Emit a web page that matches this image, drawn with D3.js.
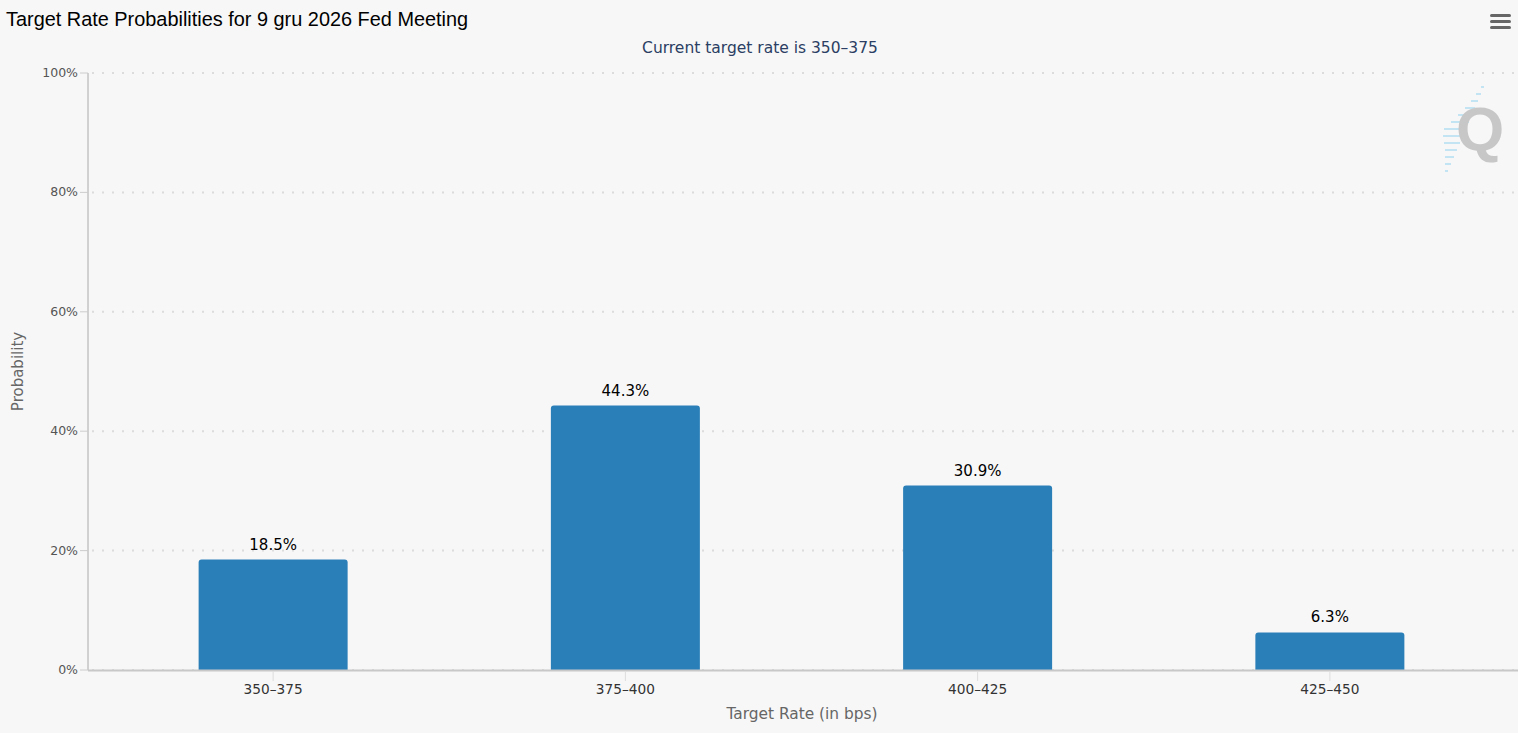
<!DOCTYPE html>
<html>
<head>
<meta charset="utf-8">
<script src="https://cdn.jsdelivr.net/npm/d3@7"></script>
<style>
  body { margin: 0; background: #f7f7f7; }
  svg { display: block; font-family: "DejaVu Sans", sans-serif; }
</style>
</head>
<body>
<div id="chart"></div>
<script>
const rates = ['350–375', '375–400', '400–425', '425–450'];
const probabilities = [18.5, 44.3, 30.9, 6.3];
const yTicks = [0, 20, 40, 60, 80, 100];

const width = 1518;
const height = 733;
const margin = {top: 73, right: 12, bottom: 63, left: 97};
const axisLeft = 88;
const plotBottom = height - margin.bottom;

const svg = d3.select('#chart')
  .append('svg')
  .attr('width', width)
  .attr('height', height);

svg.append('rect')
  .attr('width', width)
  .attr('height', height)
  .attr('fill', '#f7f7f7');

const x = d3.scaleBand()
  .domain(rates)
  .range([margin.left, width - margin.right])
  .paddingInner(0.577)
  .paddingOuter(0.2885);

const y = d3.scaleLinear()
  .domain([0, 100])
  .range([plotBottom, margin.top]);

// title + subtitle
svg.append('text')
  .text('Target Rate Probabilities for 9 gru 2026 Fed Meeting')
  .attr('x', 6)
  .attr('y', 26)
  .attr('font-family', '"Liberation Sans", Arial, sans-serif')
  .attr('font-size', '19.9px')
  .attr('fill', '#000');

svg.append('text')
  .text('Current target rate is 350–375')
  .attr('x', 760)
  .attr('y', 53)
  .attr('text-anchor', 'middle')
  .attr('font-size', '15.5px')
  .attr('fill', '#2b3e63');

// hamburger menu
svg.append('g')
  .selectAll('rect')
  .data([0, 1, 2])
  .enter()
  .append('rect')
  .attr('x', 1490)
  .attr('y', d => 14 + d * 6)
  .attr('width', 21)
  .attr('height', 3)
  .attr('rx', 1.5)
  .attr('fill', '#666');

// watermark
const mark = svg.append('g').attr('opacity', 0.5);
[[1484, 87, 3], [1481, 94, 5], [1478, 101, 7], [1475, 108, 10], [1472, 115, 14], [1469, 122, 18],
 [1466, 129, 22], [1463, 136, 20], [1460, 143, 16], [1457, 150, 12], [1454, 157, 9], [1451, 164, 6], [1448, 171, 3]]
  .forEach(([x0, y0, len]) => {
    mark.append('line')
      .attr('x1', x0 - len).attr('x2', x0)
      .attr('y1', y0).attr('y2', y0)
      .attr('stroke', '#8fd3f0')
      .attr('stroke-width', 2);
  });
mark.append('text')
  .text('Q')
  .attr('x', 1480)
  .attr('y', 150)
  .attr('text-anchor', 'middle')
  .attr('font-family', '"Liberation Sans", Arial, sans-serif')
  .attr('font-weight', 'bold')
  .attr('font-size', '62px')
  .attr('fill', '#999');

// gridlines
svg.append('g')
  .selectAll('line')
  .data(yTicks)
  .enter()
  .append('line')
  .attr('x1', axisLeft + 4)
  .attr('x2', width)
  .attr('y1', d => y(d))
  .attr('y2', d => y(d))
  .attr('stroke', '#dcdcdc')
  .attr('stroke-width', 2)
  .attr('stroke-dasharray', '2,8');

// y axis
const yAxis = svg.append('g');
yAxis.append('line')
  .attr('x1', axisLeft).attr('x2', axisLeft)
  .attr('y1', margin.top).attr('y2', plotBottom)
  .attr('stroke', '#aaa');
yAxis.selectAll('.tick')
  .data(yTicks)
  .enter()
  .append('line')
  .attr('x1', axisLeft - 8).attr('x2', axisLeft)
  .attr('y1', d => y(d)).attr('y2', d => y(d))
  .attr('stroke', '#ccc');
yAxis.selectAll('text')
  .data(yTicks)
  .enter()
  .append('text')
  .text(d => `${d}%`)
  .attr('x', axisLeft - 10)
  .attr('y', d => y(d) + 4)
  .attr('text-anchor', 'end')
  .attr('font-size', '12.5px')
  .attr('fill', '#555');

svg.append('text')
  .text('Probability')
  .attr('transform', `translate(23, ${(margin.top + plotBottom) / 2}) rotate(-90)`)
  .attr('text-anchor', 'middle')
  .attr('font-size', '15px')
  .attr('fill', '#666');

// bars
const bars = svg.append('g');
bars.selectAll('path')
  .data(probabilities)
  .enter()
  .append('path')
  .attr('d', (d, i) => {
    const x0 = x(rates[i]);
    const w = x.bandwidth();
    const y0 = y(d);
    const r = 3;
    return `M${x0},${plotBottom} V${y0 + r} Q${x0},${y0} ${x0 + r},${y0} H${x0 + w - r} Q${x0 + w},${y0} ${x0 + w},${y0 + r} V${plotBottom} Z`;
  })
  .attr('fill', '#2a7fb8');

bars.selectAll('text')
  .data(probabilities)
  .enter()
  .append('text')
  .text(d => `${d}%`)
  .attr('x', (d, i) => x(rates[i]) + x.bandwidth() / 2)
  .attr('y', d => y(d) - 10)
  .attr('text-anchor', 'middle')
  .attr('font-size', '15px')
  .attr('fill', '#000');

// x axis
const xAxis = svg.append('g');
xAxis.append('line')
  .attr('x1', axisLeft).attr('x2', width)
  .attr('y1', plotBottom + 0.5).attr('y2', plotBottom + 0.5)
  .attr('stroke', '#c8c8c8')
  .attr('stroke-width', 2);
xAxis.selectAll('.tick')
  .data(rates)
  .enter()
  .append('line')
  .attr('x1', d => x(d) + x.bandwidth() / 2)
  .attr('x2', d => x(d) + x.bandwidth() / 2)
  .attr('y1', plotBottom + 1).attr('y2', plotBottom + 11)
  .attr('stroke', '#ddd');
xAxis.selectAll('text')
  .data(rates)
  .enter()
  .append('text')
  .text(d => d)
  .attr('x', d => x(d) + x.bandwidth() / 2)
  .attr('y', plotBottom + 24)
  .attr('text-anchor', 'middle')
  .attr('font-size', '13.7px')
  .attr('fill', '#333');

svg.append('text')
  .text('Target Rate (in bps)')
  .attr('x', 802)
  .attr('y', 719)
  .attr('text-anchor', 'middle')
  .attr('font-size', '15.4px')
  .attr('fill', '#666');
</script>
</body>
</html>
